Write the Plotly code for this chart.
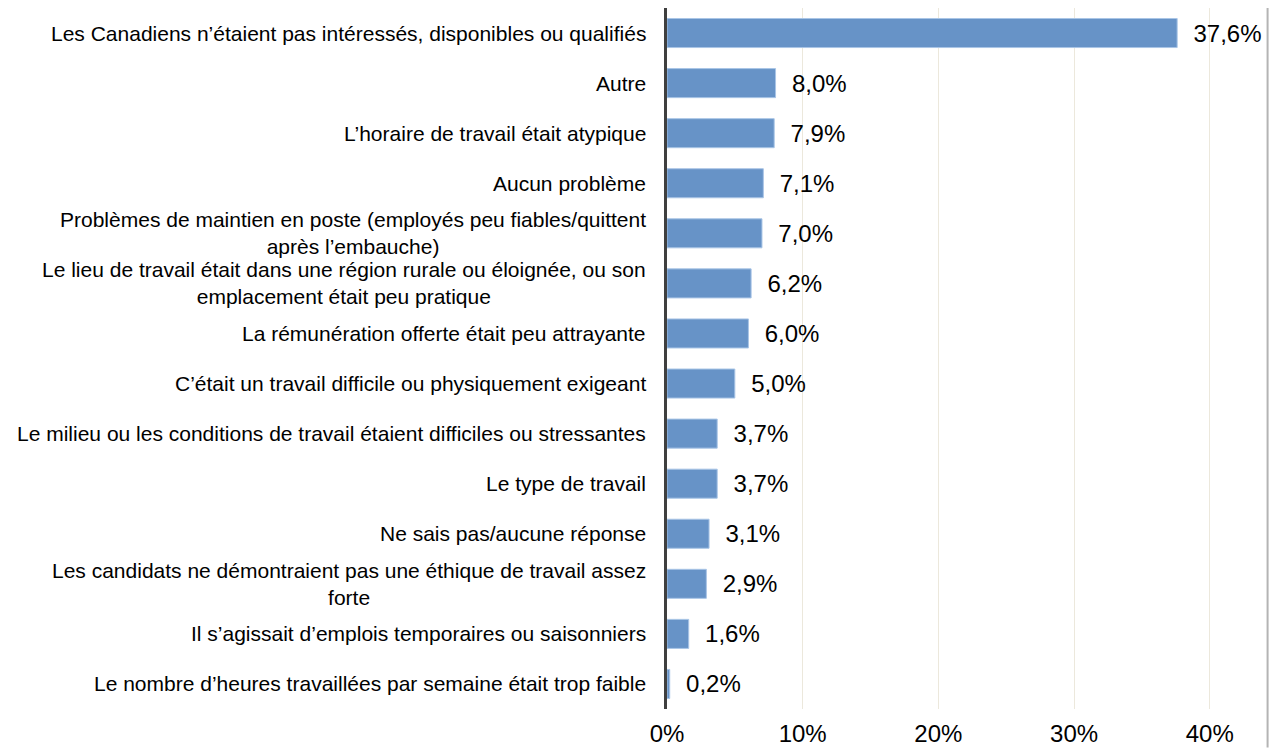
import plotly.graph_objects as go

# raisons citées (ordre du haut vers le bas)
categories = [
    "Les Canadiens n’étaient pas intéressés, disponibles ou qualifiés",
    "Autre",
    "L’horaire de travail était atypique",
    "Aucun problème",
    "Problèmes de maintien en poste (employés peu fiables/quittent<br>après l’embauche)",
    "Le lieu de travail était dans une région rurale ou éloignée, ou son<br>emplacement était peu pratique",
    "La rémunération offerte était peu attrayante",
    "C’était un travail difficile ou physiquement exigeant",
    "Le milieu ou les conditions de travail étaient difficiles ou stressantes",
    "Le type de travail",
    "Ne sais pas/aucune réponse",
    "Les candidats ne démontraient pas une éthique de travail assez<br>forte",
    "Il s’agissait d’emplois temporaires ou saisonniers",
    "Le nombre d’heures travaillées par semaine était trop faible",
]
values = [37.6, 8.0, 7.9, 7.1, 7.0, 6.2, 6.0, 5.0, 3.7, 3.7, 3.1, 2.9, 1.6, 0.2]
tick_vals = [0, 10, 20, 30, 40]
tick_text = ["0%", "10%", "20%", "30%", "40%"]

font_family = "Liberation Sans, Arial, sans-serif"

fig = go.Figure()
fig.add_trace(
    go.Bar(
        x=values,
        y=categories,
        orientation="h",
        marker=dict(color="#6793c7", line=dict(color="#a9c5e6", width=1)),
        texttemplate="  %{x:.1f}%",
        textposition="outside",
        textfont=dict(size=24, color="#000000", family=font_family),
        cliponaxis=False,
        showlegend=False,
    )
)

# libellés centrés à gauche de l'axe
for cat in categories:
    fig.add_annotation(
        x=0, xref="x", y=cat, yref="y",
        text=cat, showarrow=False,
        xanchor="right", align="center", xshift=-19,
        font=dict(size=21, color="#000000", family=font_family),
    )

# filet gris à droite
fig.add_shape(type="line", xref="paper", yref="paper", x0=1.006, x1=1.006, y0=-0.055, y1=1.0,
              line=dict(color="#b4b4b4", width=2))

# la page ajoute 8 px de marge au corps : on compense
fig.update_layout(
    width=1270,
    height=740,
    margin=dict(l=659, r=14, t=0, b=39),
    paper_bgcolor="white",
    plot_bgcolor="white",
    separators=", ",
    bargap=0.42,
    font=dict(family=font_family, color="#000000"),
    xaxis=dict(
        range=[0, 44],
        tickvals=tick_vals,
        ticktext=tick_text,
        showgrid=True,
        gridcolor="#ece8dc",
        gridwidth=1,
        zeroline=False,
        showline=False,
        ticks="",
        ticklabelstandoff=8,
        tickfont=dict(size=24, color="#000000"),
        automargin=False,
    ),
    yaxis=dict(
        range=[13.5, -0.5],
        showticklabels=False,
        showgrid=False,
        zeroline=False,
        showline=True,
        linecolor="#3f3f3f",
        linewidth=3,
        ticks="",
        automargin=False,
    ),
)

fig.write_html("out.html")
